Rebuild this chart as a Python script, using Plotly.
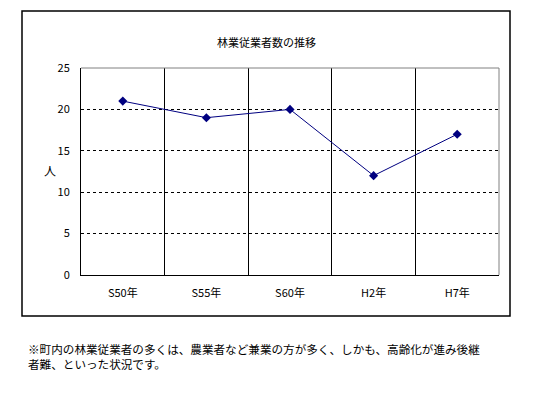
import plotly.graph_objects as go

categories = ["S50年", "S55年", "S60年", "H2年", "H7年"]
workers = [21, 19, 20, 12, 17]
y_ticks = [0, 5, 10, 15, 20, 25]

title_text = "林業従業者数の推移"
y_label = "人"
note_text = ("※町内の林業従業者の多くは、農業者など兼業の方が多く、しかも、高齢化が進み後継<br>"
             "者難、といった状況です。")

JP = "Noto Sans CJK JP, MS PGothic, sans-serif"

W, H = 539, 393
L, T, R, B = 81, 68, 40, 118
pw, ph = W - L - R, H - T - B

def px(x):
    return (x - L) / pw

def py(y):
    return (H - B - y) / ph

fig = go.Figure()
fig.add_trace(go.Scatter(
    x=categories, y=workers, mode="lines+markers",
    line=dict(color="#000080", width=1),
    marker=dict(symbol="diamond", size=7, color="#000080"),
    showlegend=False,
))

fig.update_layout(
    width=W, height=H,
    margin=dict(l=L, t=T, r=R, b=B),
    paper_bgcolor="white", plot_bgcolor="white",
    font=dict(family=JP, size=11, color="black"),
    xaxis=dict(
        type="category", range=[-0.5, 4.5],
        tickson="boundaries", showgrid=True, gridcolor="black", gridwidth=1,
        ticks="", showline=True, linecolor="black", linewidth=1,
        ticklabelstandoff=8, zeroline=False, fixedrange=True,
    ),
    yaxis=dict(
        range=[0, 25], tickvals=y_ticks, showgrid=True, gridcolor="black",
        griddash="3px,3px", gridwidth=1, ticks="", showline=True,
        linecolor="black", linewidth=1, zeroline=False,
        ticklabelstandoff=8, fixedrange=True,
    ),
    shapes=[
        dict(type="line", xref="paper", yref="paper", x0=0, x1=1, y0=1, y1=1,
             line=dict(color="#808080", width=1), layer="above"),
        dict(type="line", xref="paper", yref="paper", x0=1, x1=1, y0=0, y1=1,
             line=dict(color="#808080", width=1), layer="above"),
        dict(type="rect", xref="paper", yref="paper",
             x0=px(22), x1=px(510), y0=py(316), y1=py(11),
             line=dict(color="black", width=1.5), layer="below"),
    ],
    annotations=[
        dict(text=title_text, xref="paper", yref="paper", x=px(266), y=py(32),
             showarrow=False, font=dict(size=11)),
        dict(text=y_label, xref="paper", yref="paper", x=px(42), y=py(170),
             showarrow=False, font=dict(size=12)),
        dict(text=note_text, xref="paper", yref="paper", x=px(26), y=py(339),
             xanchor="left", yanchor="top", align="left", showarrow=False,
             font=dict(size=11.6)),
    ],
)

fig.write_html("out.html", config={"displayModeBar": False},
               post_script="document.body.style.margin='0';")
